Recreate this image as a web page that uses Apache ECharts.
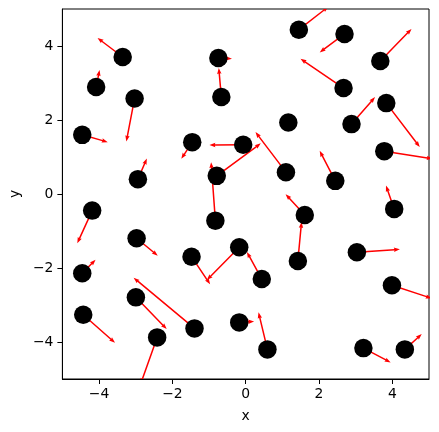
<!DOCTYPE html>
<html>
<head>
<meta charset="utf-8">
<script src="https://cdn.jsdelivr.net/npm/echarts@6/dist/echarts.min.js"></script>
<style>html,body{margin:0;padding:0;background:#fff;}#c{width:439px;height:432px;}</style>
</head>
<body>
<div id="c"></div>
<script>
const xs = [-3.355,-4.079,-3.030,-4.458,-2.940,-1.458,-0.745,-0.664,-0.789,1.450,2.696,3.672,2.669,3.835,2.886,1.163,-0.068,1.098,3.780,2.444,-4.187,-2.976,-4.458,-1.477,-0.827,-4.431,-2.995,-1.396,-2.415,1.612,4.051,-0.176,1.423,0.439,3.033,3.989,-0.176,0.593,3.211,4.341];
const ys = [3.702,2.890,2.582,1.599,0.401,1.402,3.675,2.620,0.490,4.441,4.325,3.594,2.863,2.457,1.889,1.932,1.329,0.590,1.158,0.355,-0.449,-1.196,-2.143,-1.694,-0.720,-3.264,-2.793,-3.632,-3.876,-0.566,-0.403,-1.440,-1.811,-2.298,-1.575,-2.468,-3.470,-4.200,-4.165,-4.200];
const us = [-0.686,0.093,-0.225,0.696,0.244,-0.298,0.371,-0.070,1.201,0.805,-0.677,0.851,-1.173,0.913,0.642,0,-0.921,-0.830,1.320,-0.425,-0.406,0.578,0.363,0.507,-0.116,0.867,0.841,-1.661,-0.452,-0.523,-0.224,-0.884,0.100,-0.406,1.173,1.084,0.406,-0.243,0.743,0.461];
const vs = [0.515,0.460,-1.164,-0.197,0.557,-0.452,-0.019,0.785,0.879,0.622,-0.498,0.866,0.793,-1.190,0.731,0,-0.008,1.083,-0.208,0.811,-0.883,-0.471,0.368,-0.747,1.581,-0.758,-0.858,1.369,-1.263,0.561,0.630,-0.885,1.056,0.731,0.081,-0.352,0.027,1.001,-0.387,0.414];
const tickValues = [-4,-2,0,2,4];

const points = xs.map((x,i)=>[x, ys[i]]);
const arrows = xs.map((x,i)=>[x, ys[i], us[i], vs[i]]);

const fmt = v => (v < 0 ? '\u2212' + Math.abs(v) : String(v));
const FONT = 'DejaVu Sans';

function renderArrow(params, api) {
  const x = api.value(0), y = api.value(1), u = api.value(2), v = api.value(3);
  if (u === 0 && v === 0) return null;
  const p0 = api.coord([x, y]);
  const p1 = api.coord([x + u, y + v]);
  const dx = p1[0] - p0[0], dy = p1[1] - p0[1];
  const L = Math.sqrt(dx*dx + dy*dy);
  if (L < 0.5) return null;
  const ux = dx / L, uy = dy / L;
  const nx = -uy, ny = ux;
  const w = 0.75;
  const hw = 2.2;
  const hl = Math.min(6, L);
  const hal = Math.min(5.4, L*0.9);
  const P = (a, b) => [p0[0] + ux*a + nx*b, p0[1] + uy*a + ny*b];
  const pts = [
    P(0, -w), P(L - hal, -w), P(L - hl, -hw), P(L, 0),
    P(L - hl, hw), P(L - hal, w), P(0, w)
  ];
  return {
    type: 'polygon',
    shape: { points: pts },
    style: { fill: '#ff0000', stroke: null }
  };
}

const chart = echarts.init(document.getElementById('c'), null, { renderer: 'canvas' });
chart.setOption({
  animation: false,
  backgroundColor: '#fff',
  grid: {
    left: 60, top: 9, width: 369, height: 370,
    show: true, borderColor: '#000', borderWidth: 1, backgroundColor: 'transparent'
  },
  xAxis: {
    type: 'value', min: -5, max: 5,
    name: 'x', nameLocation: 'middle', nameGap: 30,
    nameTextStyle: { color: '#000', fontFamily: FONT, fontSize: 13.9 },
    axisLine: { show: true, onZero: false, lineStyle: { color: '#000', width: 1 } },
    axisTick: { show: true, length: 5, lineStyle: { color: '#000', width: 1 }, customValues: tickValues },
    axisLabel: { color: '#000', fontFamily: FONT, fontSize: 13.9, margin: 8, customValues: tickValues, formatter: fmt },
    splitLine: { show: false }
  },
  yAxis: {
    type: 'value', min: -5, max: 5,
    name: 'y', nameLocation: 'middle', nameGap: 37, nameRotate: 90,
    nameTextStyle: { color: '#000', fontFamily: FONT, fontSize: 13.9 },
    axisLine: { show: true, onZero: false, lineStyle: { color: '#000', width: 1 } },
    axisTick: { show: true, length: 5, lineStyle: { color: '#000', width: 1 }, customValues: tickValues },
    axisLabel: { color: '#000', fontFamily: FONT, fontSize: 13.9, margin: 9, customValues: tickValues, formatter: fmt },
    splitLine: { show: false }
  },
  series: [
    {
      type: 'custom',
      renderItem: renderArrow,
      data: arrows,
      clip: true,
      z: 2,
      silent: true
    },
    {
      type: 'scatter',
      data: points,
      symbol: 'circle',
      symbolSize: 18.5,
      itemStyle: { color: '#000', opacity: 1 },
      clip: true,
      z: 3,
      silent: true
    }
  ]
});
</script>
</body>
</html>
